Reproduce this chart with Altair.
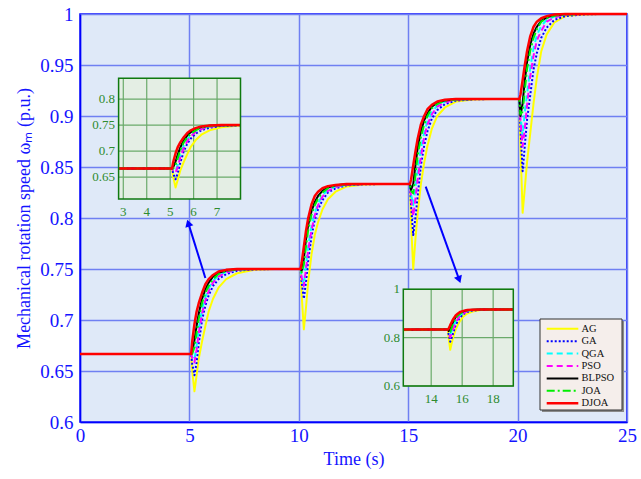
import altair as alt
import pandas as pd

# ---------------- data ----------------
SERIES = ["AG", "GA", "QGA", "PSO", "BLPSO", "JOA", "DJOA"]
COLORS = ["#ffff00", "#0000ff", "#00ffff", "#ff00ff", "#000000", "#00ee00", "#ff0000"]
DASHES = [None, [2, 2], [6, 4], [6, 4], None, [8, 3, 2, 3], None]
WIDTHS = [2, 2, 2, 2, 2, 2, 2.5]

LEVELS = [0.6667, 0.75, 0.8333, 0.9167, 1.0]          # steady speeds (p.u.)
STEP_ONSETS = [5.08, 10.08, 15.08, 20.08]              # s
OFFSETS = [0, 0.05, 0.15, 0.25, 0.35, 0.5, 0.65, 0.8, 1.0, 1.25, 1.6, 2.1, 2.9, 3.8, 4.9]

# normalised response (fraction of each speed step) read per step: 5 s, 10 s, 15 s, 20 s
AG = [
    [0, -0.2, -0.44, -0.25, -0.05, 0.15, 0.33, 0.5, 0.65, 0.78, 0.88, 0.95, 0.99, 1, 1],
    [0, -0.3, -0.71, -0.45, -0.15, 0.17, 0.4, 0.55, 0.7, 0.82, 0.91, 0.97, 0.995, 1, 1],
    [0, -0.45, -1.0, -0.65, -0.35, 0.0, 0.25, 0.45, 0.65, 0.8, 0.9, 0.97, 0.995, 1, 1],
    [0, -0.55, -1.34, -1.05, -0.75, -0.4, -0.05, 0.25, 0.56, 0.76, 0.9, 0.975, 0.995, 1, 1],
]
GA = [
    [0, -0.12, -0.25, -0.1, 0.13, 0.4, 0.57, 0.69, 0.8, 0.88, 0.94, 0.98, 0.995, 1, 1],
    [0, -0.15, -0.35, -0.15, 0.1, 0.38, 0.58, 0.7, 0.81, 0.9, 0.95, 0.985, 0.997, 1, 1],
    [0, -0.25, -0.6, -0.4, -0.15, 0.22, 0.45, 0.62, 0.77, 0.87, 0.94, 0.98, 0.995, 1, 1],
    [0, -0.35, -0.85, -0.55, -0.25, 0.05, 0.35, 0.54, 0.72, 0.84, 0.93, 0.975, 0.995, 1, 1],
]
QGA = [
    [0, -0.04, -0.07, 0.1, 0.3, 0.53, 0.67, 0.77, 0.86, 0.92, 0.97, 0.99, 1, 1, 1],
    [0, -0.1, -0.18, 0.05, 0.27, 0.5, 0.66, 0.77, 0.87, 0.93, 0.97, 0.99, 1, 1, 1],
    [0, -0.12, -0.25, -0.05, 0.15, 0.42, 0.6, 0.74, 0.85, 0.92, 0.97, 0.99, 1, 1, 1],
    [0, -0.2, -0.44, -0.15, 0.05, 0.37, 0.6, 0.75, 0.86, 0.93, 0.97, 0.99, 1, 1, 1],
]
PSO = [
    [0, -0.05, -0.1, 0.05, 0.25, 0.48, 0.63, 0.74, 0.84, 0.91, 0.96, 0.99, 1, 1, 1],
    [0, -0.1, -0.2, 0.0, 0.22, 0.46, 0.63, 0.75, 0.85, 0.92, 0.965, 0.99, 1, 1, 1],
    [0, -0.15, -0.38, -0.18, 0.05, 0.32, 0.55, 0.7, 0.82, 0.91, 0.96, 0.99, 1, 1, 1],
    [0, -0.25, -0.56, -0.35, -0.08, 0.27, 0.51, 0.69, 0.8, 0.91, 0.96, 0.99, 1, 1, 1],
]
BLPSO = [
    [0, 0.03, 0.16, 0.33, 0.48, 0.65, 0.76, 0.84, 0.91, 0.955, 0.983, 0.997, 1, 1, 1],
    [0, -0.02, 0.12, 0.35, 0.52, 0.68, 0.79, 0.86, 0.92, 0.96, 0.985, 0.997, 1, 1, 1],
    [0, -0.07, 0.0, 0.22, 0.42, 0.62, 0.75, 0.83, 0.91, 0.955, 0.983, 0.996, 1, 1, 1],
    [0, -0.2, -0.05, 0.22, 0.43, 0.64, 0.77, 0.85, 0.92, 0.96, 0.985, 0.997, 1, 1, 1],
]
JOA = [
    [0, 0.0, 0.08, 0.25, 0.42, 0.6, 0.72, 0.8, 0.88, 0.94, 0.975, 0.995, 1, 1, 1],
    [0, -0.04, 0.05, 0.27, 0.46, 0.64, 0.75, 0.83, 0.9, 0.95, 0.98, 0.995, 1, 1, 1],
    [0, -0.08, -0.11, 0.1, 0.33, 0.55, 0.7, 0.8, 0.89, 0.94, 0.978, 0.994, 1, 1, 1],
    [0, -0.18, -0.15, 0.1, 0.35, 0.57, 0.72, 0.82, 0.91, 0.95, 0.98, 0.995, 1, 1, 1],
]
DJOA = [
    [0, 0.15, 0.35, 0.5, 0.6, 0.72, 0.82, 0.88, 0.93, 0.97, 0.99, 1, 1, 1, 1],
    [0, 0.07, 0.26, 0.45, 0.6, 0.76, 0.86, 0.91, 0.95, 0.975, 0.99, 1, 1, 1, 1],
    [0, 0.05, 0.22, 0.38, 0.53, 0.7, 0.8, 0.88, 0.93, 0.97, 0.99, 1, 1, 1, 1],
    [0, 0.05, 0.22, 0.4, 0.56, 0.74, 0.85, 0.91, 0.95, 0.975, 0.993, 1, 1, 1, 1],
]
FRACTIONS = {"AG": AG, "GA": GA, "QGA": QGA, "PSO": PSO, "BLPSO": BLPSO, "JOA": JOA, "DJOA": DJOA}

X_TICKS = [0, 5, 10, 15, 20, 25]
Y_TICKS = [0.6, 0.65, 0.7, 0.75, 0.8, 0.85, 0.9, 0.95, 1.0]
INSET1_X = [3, 4, 5, 6, 7]
INSET1_Y = [0.65, 0.7, 0.75, 0.8]
INSET1_YLAB = ["0.65", "0.7", "0.75", "0.8"]
INSET2_X = [14, 16, 18]
INSET2_Y = [0.6, 0.8, 1.0]
INSET2_YLAB = ["0.6", "0.8", "1"]

# ---------------- table ----------------
rows = []
for s in SERIES:
    rows.append({"series": s, "t": 0.0, "y": LEVELS[0]})
    for k, t0 in enumerate(STEP_ONSETS):
        lo, hi = LEVELS[k], LEVELS[k + 1]
        for off, f in zip(OFFSETS, FRACTIONS[s][k]):
            rows.append({"series": s, "t": round(t0 + off, 3), "y": lo + f * (hi - lo)})
    rows.append({"series": s, "t": 25.0, "y": LEVELS[-1]})
df = pd.DataFrame(rows)

FONT = "Liberation Serif"
BLUE_TXT = "#1414ff"
GREEN_TXT = "#2e8b2e"
GRID_BLUE = "#6f80f2"
GRID_GREEN = "#6aaa6a"
BORDER_GREEN = "#0f7a0f"

W, H = 547, 408

# ---------------- main plot ----------------
XM = alt.Scale(domain=[0, 25], nice=False, zero=False)
YM = alt.Scale(domain=[0.6, 1.0], nice=False, zero=False)

x_axis = alt.Axis(values=X_TICKS, title="Time (s)", grid=True, gridColor=GRID_BLUE, gridWidth=1.5,
                  domainColor="#0000ff", domainWidth=1.5, ticks=False, labelFont=FONT, labelFontSize=19,
                  labelColor=BLUE_TXT, labelPadding=4, titleFont=FONT, titleFontSize=18,
                  titleFontWeight="normal", titleColor=BLUE_TXT, titlePadding=5, labelFlush=False)
y_axis = alt.Axis(values=Y_TICKS, format="~g", title="Mechanical rotation speed ωₘ (p.u.)", grid=True,
                  gridColor=GRID_BLUE, gridWidth=1.5, domainColor="#0000ff", domainWidth=1.5, ticks=False,
                  labelFont=FONT, labelFontSize=19, labelColor=BLUE_TXT, labelPadding=7, titleFont=FONT,
                  titleFontSize=18, titleFontWeight="normal", titleColor=BLUE_TXT, titlePadding=6,
                  labelFlush=False)


def line_kwargs(i):
    kw = dict(color=COLORS[i], strokeWidth=WIDTHS[i], strokeJoin="round")
    if DASHES[i] is not None:
        kw["strokeDash"] = DASHES[i]
    return kw


layers = []
for i, s in enumerate(SERIES):
    layers.append(
        alt.Chart(df).transform_filter(f"datum.series == '{s}'").mark_line(**line_kwargs(i)).encode(
            x=alt.X("t:Q", scale=XM, axis=x_axis if i == 0 else None),
            y=alt.Y("y:Q", scale=YM, axis=y_axis if i == 0 else None),
        )
    )

# arrows
arrows = pd.DataFrame({"x": [5.73, 15.8], "y": [0.7412, 0.8307], "x2": [4.95, 17.33],
                       "y2": [0.795, 0.7395], "ang": [343, 160]})
layers.append(alt.Chart(arrows).mark_rule(color="#0000ff", strokeWidth=2).encode(
    x=alt.X("x:Q", scale=XM, axis=None), y=alt.Y("y:Q", scale=YM, axis=None), x2="x2:Q", y2="y2:Q"))
layers.append(alt.Chart(arrows).mark_point(shape="triangle-up", filled=True, size=70, color="#0000ff",
                                           opacity=1).encode(
    x=alt.X("x2:Q", scale=XM, axis=None), y=alt.Y("y2:Q", scale=YM, axis=None),
    angle=alt.Angle("ang:Q", scale=None)))


# ---------------- insets ----------------
def inset(xdom, xrange, ydom, yrange, xticks, yticks, ylabs, tfilter, xlab_y, ylab_x):
    XS = alt.Scale(domain=xdom, range=xrange, nice=False, zero=False, clamp=True)
    YS = alt.Scale(domain=ydom, range=yrange, nice=False, zero=False, clamp=True)
    out = []
    box = pd.DataFrame({"x1": [xdom[0]], "x2": [xdom[1]], "y1": [ydom[0]], "y2": [ydom[1]]})
    out.append(alt.Chart(box).mark_rect(fill="#e4eee4").encode(
        x=alt.X("x1:Q", scale=XS, axis=None), x2="x2:Q",
        y=alt.Y("y1:Q", scale=YS, axis=None), y2="y2:Q"))
    gx = pd.DataFrame({"v": xticks, "lo": [ydom[0]] * len(xticks), "hi": [ydom[1]] * len(xticks)})
    out.append(alt.Chart(gx).mark_rule(color=GRID_GREEN, strokeWidth=1.2).encode(
        x=alt.X("v:Q", scale=XS, axis=None), y=alt.Y("lo:Q", scale=YS, axis=None), y2="hi:Q"))
    gy = pd.DataFrame({"v": yticks, "lo": [xdom[0]] * len(yticks), "hi": [xdom[1]] * len(yticks)})
    out.append(alt.Chart(gy).mark_rule(color=GRID_GREEN, strokeWidth=1.2).encode(
        y=alt.Y("v:Q", scale=YS, axis=None), x=alt.X("lo:Q", scale=XS, axis=None), x2="hi:Q"))
    for i, s in enumerate(SERIES):
        out.append(alt.Chart(df).transform_filter(
            f"datum.series == '{s}' && datum.t >= {tfilter[0]} && datum.t <= {tfilter[1]}"
        ).mark_line(**line_kwargs(i)).encode(
            x=alt.X("t:Q", scale=XS, axis=None), y=alt.Y("y:Q", scale=YS, axis=None)))
    out.append(alt.Chart(box).mark_rect(fill=None, stroke=BORDER_GREEN, strokeWidth=1.5).encode(
        x=alt.X("x1:Q", scale=XS, axis=None), x2="x2:Q",
        y=alt.Y("y1:Q", scale=YS, axis=None), y2="y2:Q"))
    xl = pd.DataFrame({"v": xticks, "lab": [str(v) for v in xticks]})
    out.append(alt.Chart(xl).mark_text(font=FONT, fontSize=13, color=GREEN_TXT, baseline="middle").encode(
        x=alt.X("v:Q", scale=XS, axis=None), y=alt.value(xlab_y), text="lab:N"))
    yl = pd.DataFrame({"v": yticks, "lab": ylabs})
    out.append(alt.Chart(yl).mark_text(font=FONT, fontSize=13, color=GREEN_TXT, baseline="middle",
                                       align="right").encode(
        y=alt.Y("v:Q", scale=YS, axis=None), x=alt.value(ylab_x), text="lab:N"))
    return out


layers += inset([2.8, 8.0], [38.6, 160.5], [0.608, 0.84], [185, 64.3],
                INSET1_X, INSET1_Y, INSET1_YLAB, (0, 10.0), 198, 35)
layers += inset([12.2, 19.3], [323.3, 433.3], [0.6, 1.0], [372, 275.3],
                INSET2_X, INSET2_Y, INSET2_YLAB, (12.0, 20.0), 385, 320)

# ---------------- legend ----------------
leg = pd.DataFrame({"series": SERIES, "idx": list(range(len(SERIES)))})
YL = alt.Scale(domain=[0, 6], range=[314.7, 389.3], nice=False, zero=False)
layers.append(alt.Chart(pd.DataFrame({"a": [0]})).mark_rect(fill="#8a8a8a").encode(
    x=alt.value(462), x2=alt.value(544), y=alt.value(307), y2=alt.value(398)))
layers.append(alt.Chart(pd.DataFrame({"a": [0]})).mark_rect(fill="#f5eeeb", stroke="#333333",
                                                            strokeWidth=1).encode(
    x=alt.value(460), x2=alt.value(542), y=alt.value(305), y2=alt.value(396)))
for i, s in enumerate(SERIES):
    layers.append(alt.Chart(leg).transform_filter(f"datum.series == '{s}'").mark_rule(
        **line_kwargs(i)).encode(
        x=alt.value(466.7), x2=alt.value(498.3), y=alt.Y("idx:Q", scale=YL, axis=None)))
layers.append(alt.Chart(leg).mark_text(font=FONT, fontSize=10.5, color="#111111", align="left",
                                       baseline="middle").encode(
    x=alt.value(501.5), y=alt.Y("idx:Q", scale=YL, axis=None), text="series:N"))

chart = alt.layer(*layers).resolve_scale(x="independent", y="independent").properties(
    width=W, height=H,
    padding={"left": 80, "top": 14, "right": 14, "bottom": 57},
    autosize=alt.AutoSizeParams(type="none"),
    background="white",
).configure_view(fill="#dfe9f8", stroke="#0000ff", strokeWidth=1.5).configure_axis(
    labelFont=FONT, titleFont=FONT
).configure_text(font=FONT)

chart.save("out.html", embed_options={"renderer": "svg", "actions": False})
